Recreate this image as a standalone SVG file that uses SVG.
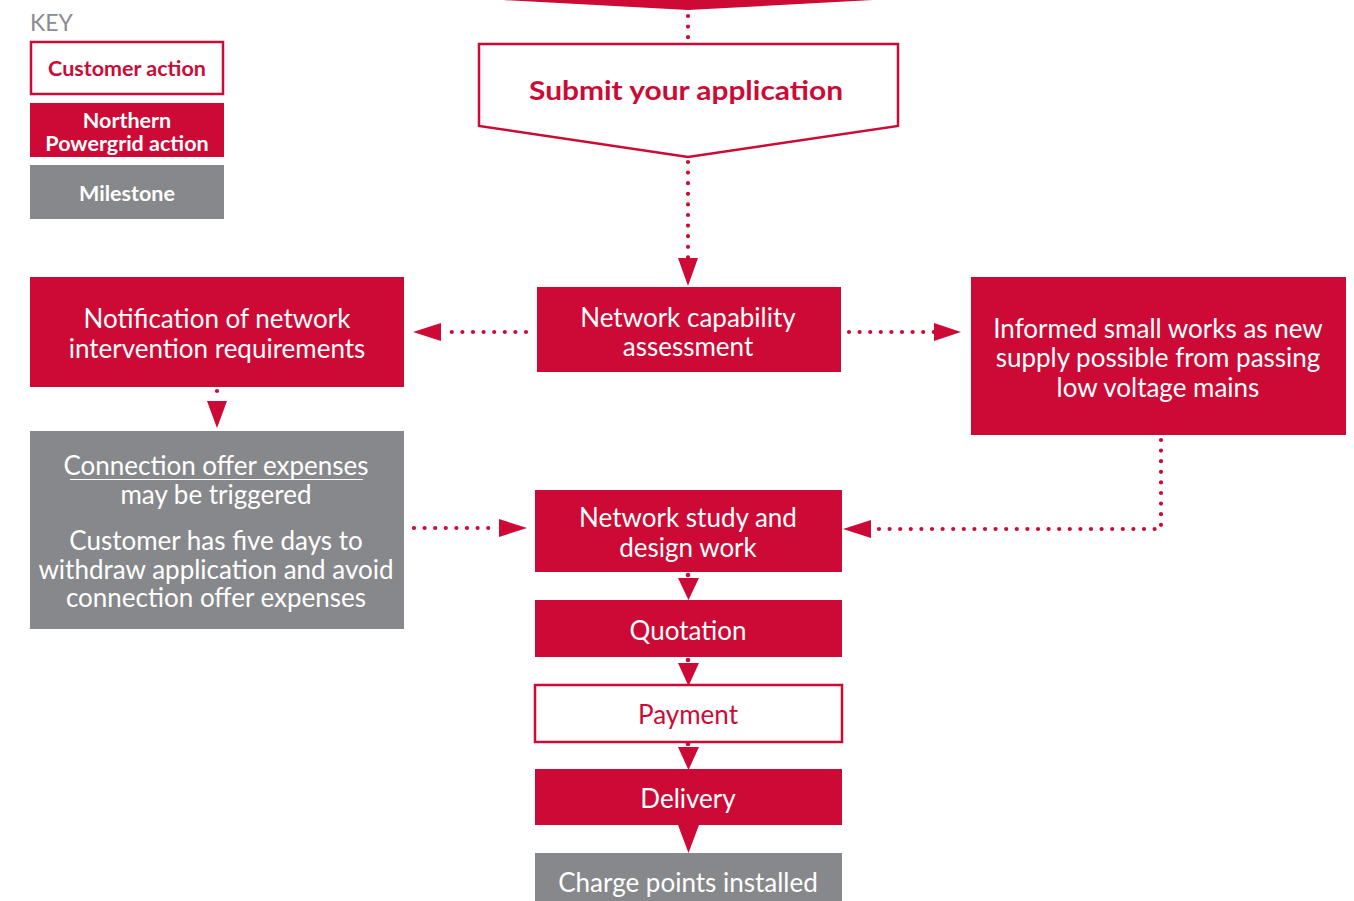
<svg xmlns="http://www.w3.org/2000/svg" width="1354" height="901" viewBox="0 0 1354 901">
  <defs>
    <style>
      .red { fill: #cc0a35; }
      .grey { fill: #87888b; }
      .outline { fill: #ffffff; stroke: #cc0a35; stroke-width: 2.5; }
      .t { font-family: "Lato", "Liberation Sans", sans-serif; font-size: 26px; text-anchor: middle; }
      .tw { fill: #ffffff; }
      .tr { fill: #cc0a35; }
      .key { font-family: "Lato", "Liberation Sans", sans-serif; font-size: 21.5px; font-weight: bold; text-anchor: middle; }
      .dots { fill: none; stroke: #cc0a35; stroke-width: 4.2; stroke-linecap: round; stroke-dasharray: 0 10.6; }
      .head { fill: #cc0a35; }
    </style>
  </defs>

  <!-- legend -->
  <g id="key">
    <text x="30" y="31" font-family="Lato, 'Liberation Sans', sans-serif" font-size="23" fill="#8a8b8e">KEY</text>
    <g id="key-customer">
      <rect x="31" y="42" width="192" height="52" class="outline" stroke-width="2"/>
      <text x="127" y="76" class="key tr">Customer action</text>
    </g>
    <g id="key-npg">
      <rect x="30" y="103" width="194" height="54" class="red"/>
      <text x="127" y="127.5" class="key tw">Northern</text>
      <text x="127" y="150.5" class="key tw">Powergrid action</text>
    </g>
    <g id="key-milestone">
      <rect x="30" y="165" width="194" height="54" class="grey"/>
      <text x="127" y="201" class="key tw">Milestone</text>
    </g>
  </g>

  <!-- previous step (cut off at the top edge) -->
  <g id="prev-step">
    <polygon points="503,-20 873,-20 873,0 688,10 503,0" class="red"/>
  </g>

  <g id="submit">
    <polygon points="479,44 898,44 898,126 688,157 479,126" class="outline"/>
    <text transform="translate(686,100) scale(1.15,1)" class="t tr" font-size="33" font-weight="bold">Submit your application</text>
  </g>

  <g id="notification">
    <rect x="30" y="277" width="374" height="110" class="red"/>
    <text x="217" y="328" class="t tw">Notification of network</text>
    <text x="217" y="358" class="t tw">intervention requirements</text>
  </g>

  <g id="capability">
    <rect x="537" y="287" width="304" height="85" class="red"/>
    <text x="688" y="327" class="t tw">Network capability</text>
    <text x="688" y="356" class="t tw">assessment</text>
  </g>

  <g id="small-works">
    <rect x="971" y="277" width="375" height="158" class="red"/>
    <text x="1158" y="338" class="t tw">Informed small works as new</text>
    <text x="1158" y="367" class="t tw">supply possible from passing</text>
    <text x="1158" y="397" class="t tw">low voltage mains</text>
  </g>

  <g id="offer-expenses">
    <rect x="30" y="431" width="374" height="198" class="grey"/>
    <text x="216" y="475" class="t tw">Connection offer expenses</text>
    <line x1="70" y1="479.5" x2="363" y2="479.5" stroke="#ffffff" stroke-width="1.2"/>
    <text x="216" y="503.5" class="t tw">may be triggered</text>
    <text x="216" y="550" class="t tw">Customer has five days to</text>
    <text x="216" y="578.5" class="t tw">withdraw application and avoid</text>
    <text x="216" y="607" class="t tw">connection offer expenses</text>
  </g>

  <g id="study">
    <rect x="535" y="490" width="307" height="82" class="red"/>
    <text x="688" y="527" class="t tw">Network study and</text>
    <text x="688" y="557" class="t tw">design work</text>
  </g>

  <g id="quotation">
    <rect x="535" y="600" width="307" height="57" class="red"/>
    <text x="688" y="640" class="t tw">Quotation</text>
  </g>

  <g id="payment">
    <rect x="535" y="685" width="307" height="57" class="outline" stroke-width="2"/>
    <text x="688" y="724" class="t tr">Payment</text>
  </g>

  <g id="delivery">
    <rect x="535" y="769" width="307" height="56" class="red"/>
    <text x="688" y="808" class="t tw">Delivery</text>
  </g>

  <g id="installed">
    <rect x="535" y="853" width="307" height="60" class="grey"/>
    <text x="688" y="892" class="t tw">Charge points installed</text>
  </g>

  <!-- connectors -->
  <g id="connectors">
    <path d="M688,16 V40" class="dots"/>
    <path d="M688,162 V258" class="dots"/>
    <polygon points="678,258 698,258 688,286" class="head"/>

    <path d="M526,332 H447" class="dots"/>
    <polygon points="441,323 441,341 413,332" class="head"/>

    <path d="M849,332 H934" class="dots"/>
    <polygon points="934,323 934,341 961,332" class="head"/>

    <path d="M217,391 V392" class="dots"/>
    <polygon points="207,401 227,401 217,428" class="head"/>

    <path d="M414,528 H498" class="dots"/>
    <polygon points="499,519 499,537 527,528" class="head"/>

    <path d="M1161,440 V529 H875" class="dots"/>
    <polygon points="871,520 871,538 843,529" class="head"/>

    <circle cx="688" cy="575" r="2.3" class="head"/>
    <polygon points="678,578 699,578 688.5,600" class="head"/>
    <circle cx="688" cy="660" r="2.3" class="head"/>
    <polygon points="678,663 699,663 688.5,686" class="head"/>
    <circle cx="688" cy="744" r="2.3" class="head"/>
    <polygon points="678,747 699,747 688.5,770" class="head"/>
    <polygon points="678,825 699,825 688.5,853" class="head"/>
  </g>
</svg>
